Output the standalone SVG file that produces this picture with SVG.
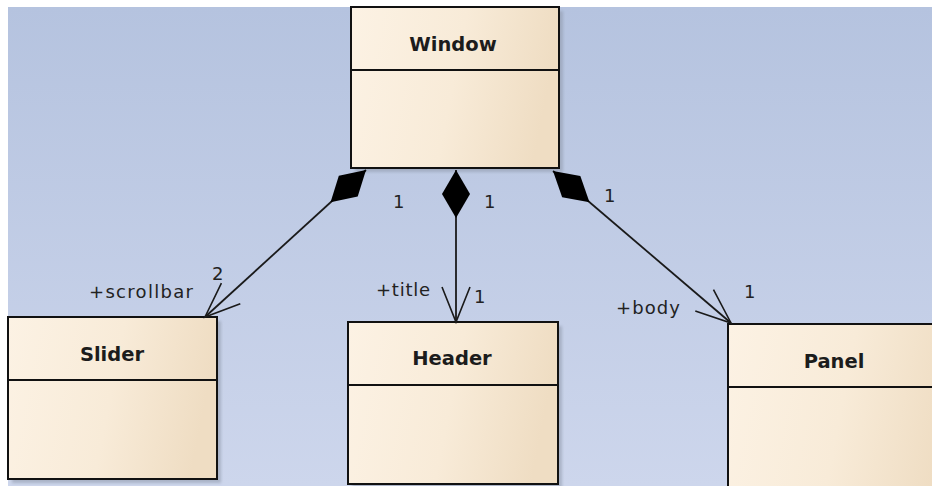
<svg xmlns="http://www.w3.org/2000/svg" width="932" height="486" viewBox="0 0 932 486">
  <defs>
    <linearGradient id="bg" x1="0" y1="0" x2="0" y2="1">
      <stop offset="0" stop-color="#b5c3df"/>
      <stop offset="1" stop-color="#cdd6ec"/>
    </linearGradient>
    <linearGradient id="classFill" x1="0" y1="0" x2="1" y2="0.15">
      <stop offset="0" stop-color="#fcf2e4"/>
      <stop offset="0.55" stop-color="#f8ebd8"/>
      <stop offset="1" stop-color="#efddc3"/>
    </linearGradient>
    <filter id="soft" x="-10%" y="-10%" width="130%" height="130%">
      <feGaussianBlur stdDeviation="1.5"/>
    </filter>
    <!-- filled composition diamond at the whole end -->
    <marker id="diamond" markerUnits="userSpaceOnUse" markerWidth="50" markerHeight="32"
            viewBox="-1 -16 50 32" refX="0" refY="0" orient="auto">
      <path d="M0 0 L24 -14 L48 0 L24 14 Z" fill="#000"/>
    </marker>
    <!-- open navigability arrow at the part end -->
    <marker id="openArrow" markerUnits="userSpaceOnUse" markerWidth="40" markerHeight="34"
            viewBox="-37 -17 40 34" refX="0" refY="0" orient="auto">
      <path d="M-35 -14 L0 0 L-35 14" fill="none" stroke="#1a1a1a" stroke-width="1.6"/>
    </marker>
  </defs>
  <style>
    .shadow { fill: #8d96a8; opacity: 0.55; filter: url(#soft); }
    .box { fill: url(#classFill); stroke: #111; stroke-width: 2; }
    .div { stroke: #111; stroke-width: 2; }
    .name { font-family: "DejaVu Sans", Verdana, sans-serif; font-weight: bold; font-size: 19.5px; fill: #1c1c1c; text-anchor: middle; }
    .lbl { font-family: "DejaVu Sans", Verdana, sans-serif; font-size: 18px; fill: #222; }
    .edge { fill: none; stroke: #1a1a1a; stroke-width: 1.8; marker-start: url(#diamond); marker-end: url(#openArrow); }
  </style>

  <!-- canvas -->
  <rect x="0" y="0" width="932" height="486" fill="#ffffff"/>
  <rect x="8" y="7" width="924" height="479" fill="url(#bg)"/>

  <!-- Window -->
  <g id="window">
    <rect class="shadow" x="355" y="11" width="208" height="161"/>
    <rect class="box" x="351" y="7" width="208" height="161"/>
    <line class="div" x1="351" y1="70" x2="559" y2="70"/>
    <text class="name" x="453" y="51">Window</text>
  </g>

  <!-- Slider -->
  <g id="slider">
    <rect class="shadow" x="12" y="321" width="209" height="162"/>
    <rect class="box" x="8" y="317" width="209" height="162"/>
    <line class="div" x1="8" y1="380" x2="217" y2="380"/>
    <text class="name" x="112" y="361">Slider</text>
  </g>

  <!-- Header -->
  <g id="header">
    <rect class="shadow" x="352" y="326" width="210" height="162"/>
    <rect class="box" x="348" y="322" width="210" height="162"/>
    <line class="div" x1="348" y1="385" x2="558" y2="385"/>
    <text class="name" x="452" y="365">Header</text>
  </g>

  <!-- Panel -->
  <g id="panel">
    <rect class="box" x="728" y="324" width="230" height="180"/>
    <line class="div" x1="728" y1="387" x2="958" y2="387"/>
    <text class="name" x="834" y="368">Panel</text>
  </g>

  <!-- composition associations -->
  <g id="connectors">
    <line class="edge" x1="366" y1="170" x2="205" y2="317"/>
    <line class="edge" x1="456" y1="170" x2="456" y2="322"/>
    <line class="edge" x1="553" y1="171" x2="731" y2="323"/>
  </g>

  <!-- role names and multiplicities -->
  <g id="labels">
    <text class="lbl" x="393" y="208">1</text>
    <text class="lbl" x="212" y="280">2</text>
    <text class="lbl" x="89" y="298" textLength="104">+scrollbar</text>
    <text class="lbl" x="484" y="208">1</text>
    <text class="lbl" x="376" y="296" textLength="54">+title</text>
    <text class="lbl" x="474" y="303">1</text>
    <text class="lbl" x="604" y="202">1</text>
    <text class="lbl" x="616" y="314" textLength="64">+body</text>
    <text class="lbl" x="744" y="298">1</text>
  </g>
</svg>
